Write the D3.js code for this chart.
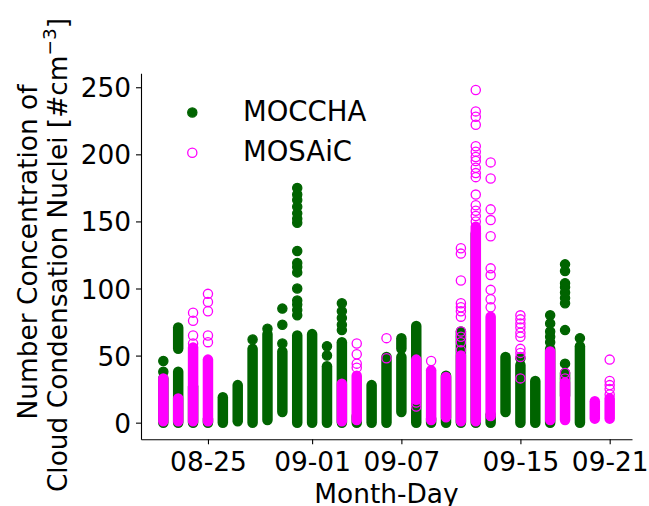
<!DOCTYPE html>
<html>
<head>
<meta charset="utf-8">
<script src="https://cdn.jsdelivr.net/npm/d3@7"></script>
<style>
  body { margin: 0; background: #fff; }
  text { font-family: "DejaVu Sans", sans-serif; fill: #000; }
</style>
</head>
<body>
<div id="chart"></div>
<script>
// MOCCHA: dense stacks of points per day [day, low, high]
const mocchaRuns = [
  ["08-22", 0, 33], ["08-23", 0, 38], ["08-23", 55, 71], ["08-24", 0, 27],
  ["08-25", 0, 3], ["08-26", 0, 19], ["08-27", 1, 28], ["08-28", 0, 55],
  ["08-29", 2, 66], ["08-30", 8, 53], ["08-31", 0, 65], ["09-01", 0, 66],
  ["09-02", 0, 42], ["09-03", 0, 60], ["09-04", 0, 5], ["09-05", 0, 28],
  ["09-06", 0, 49], ["09-07", 8, 49], ["09-07", 55, 63], ["09-08", 0, 72],
  ["09-09", 0, 3], ["09-10", 0, 35], ["09-11", 0, 68], ["09-12", 0, 141],
  ["09-13", 0, 6], ["09-14", 8, 49], ["09-15", 0, 43], ["09-16", 0, 31],
  ["09-17", 0, 55], ["09-18", 20, 37], ["09-19", 0, 57]
];
// MOCCHA: single points [day, value]
const mocchaPoints = [
  ["08-22", 38], ["08-22", 46], ["08-28", 62], ["08-29", 70],
  ["08-30", 59], ["08-30", 73], ["08-30", 85],
  ["08-31", 80], ["08-31", 84], ["08-31", 88], ["08-31", 91], ["08-31", 100],
  ["08-31", 112], ["08-31", 116], ["08-31", 119], ["08-31", 128], ["08-31", 149],
  ["08-31", 152], ["08-31", 156], ["08-31", 161], ["08-31", 166], ["08-31", 170], ["08-31", 175],
  ["09-02", 50], ["09-02", 57],
  ["09-03", 69], ["09-03", 73], ["09-03", 78], ["09-03", 83], ["09-03", 89],
  ["09-15", 48],
  ["09-17", 60], ["09-17", 64], ["09-17", 68], ["09-17", 74], ["09-17", 80],
  ["09-18", 44], ["09-18", 69], ["09-18", 89], ["09-18", 93], ["09-18", 97],
  ["09-18", 101], ["09-18", 104], ["09-18", 113], ["09-18", 118],
  ["09-19", 63]
];
// MOSAiC: dense stacks of points per day [day, low, high]
const mosaicRuns = [
  ["08-22", 1, 33], ["08-23", 1, 18], ["08-24", 1, 56], ["08-25", 1, 47],
  ["09-03", 1, 29], ["09-04", 2, 35], ["09-08", 17, 47], ["09-09", 2, 39],
  ["09-10", 4, 34], ["09-11", 1, 50], ["09-12", 1, 146], ["09-13", 5, 79],
  ["09-17", 2, 53], ["09-18", 2, 30], ["09-20", 3, 16], ["09-21", 3, 18]
];
// MOSAiC: single points [day, value]
const mosaicPoints = [
  ["08-24", 59], ["08-24", 65], ["08-24", 76], ["08-24", 82],
  ["08-25", 60], ["08-25", 65], ["08-25", 83], ["08-25", 90], ["08-25", 96],
  ["09-04", 41], ["09-04", 44], ["09-04", 51], ["09-04", 59],
  ["09-06", 48], ["09-06", 63],
  ["09-08", 12], ["09-08", 15],
  ["09-09", 46],
  ["09-11", 54], ["09-11", 60], ["09-11", 64], ["09-11", 68], ["09-11", 79],
  ["09-11", 83], ["09-11", 86], ["09-11", 89], ["09-11", 106], ["09-11", 126], ["09-11", 130],
  ["09-12", 150], ["09-12", 154], ["09-12", 158], ["09-12", 162],
  ["09-12", 170], ["09-12", 183], ["09-12", 186], ["09-12", 190], ["09-12", 195],
  ["09-12", 198], ["09-12", 202], ["09-12", 206], ["09-12", 222], ["09-12", 228],
  ["09-12", 232], ["09-12", 248],
  ["09-13", 86], ["09-13", 92], ["09-13", 99], ["09-13", 110], ["09-13", 115],
  ["09-13", 139], ["09-13", 151], ["09-13", 159], ["09-13", 182], ["09-13", 194],
  ["09-15", 33], ["09-15", 49], ["09-15", 52], ["09-15", 55], ["09-15", 64],
  ["09-15", 67], ["09-15", 71], ["09-15", 74], ["09-15", 77], ["09-15", 80],
  ["09-18", 33], ["09-18", 37],
  ["09-21", 21], ["09-21", 25], ["09-21", 28], ["09-21", 31], ["09-21", 47]
];
const xTickDays = ["08-25", "09-01", "09-07", "09-15", "09-21"];
const yTicks = [0, 50, 100, 150, 200, 250];
const seriesNames = ["MOCCHA", "MOSAiC"];

const W = 649, H = 506;
const margin = { top: 73.3, right: 17, bottom: 66.7, left: 141 };
const green = "#006400", magenta = "#ff00ff";
const r = 4.6, sw = 1.3;

const parseDay = d3.timeParse("%Y-%m-%d");
const day = s => parseDay("2018-" + s);

const svg = d3.select("#chart").append("svg")
  .attr("width", W).attr("height", H);

// Scales with matplotlib-like 5% margins
const allDays = [...mocchaRuns, ...mocchaPoints, ...mosaicRuns, ...mosaicPoints].map(d => day(d[0]));
const [d0, d1] = d3.extent(allDays);
const padT = (d1 - d0) * 0.05;
const x = d3.scaleTime()
  .domain([new Date(+d0 - padT), new Date(+d1 + padT)])
  .range([margin.left, W - margin.right]);

const allVals = [
  ...mocchaRuns.flatMap(d => [d[1], d[2]]), ...mocchaPoints.map(d => d[1]),
  ...mosaicRuns.flatMap(d => [d[1], d[2]]), ...mosaicPoints.map(d => d[1])
];
const [v0, v1] = d3.extent(allVals);
const padV = (v1 - v0) * 0.05;
const y = d3.scaleLinear()
  .domain([v0 - padV, v1 + padV])
  .range([H - margin.bottom, margin.top]);

// MOCCHA (filled green)
const gm = svg.append("g");
gm.selectAll("line").data(mocchaRuns).join("line")
  .attr("x1", d => x(day(d[0]))).attr("x2", d => x(day(d[0])))
  .attr("y1", d => y(d[1])).attr("y2", d => y(d[2]))
  .attr("stroke", green).attr("stroke-width", 2 * r + sw)
  .attr("stroke-linecap", "round");
gm.selectAll("circle").data(mocchaPoints).join("circle")
  .attr("cx", d => x(day(d[0]))).attr("cy", d => y(d[1]))
  .attr("r", r).attr("fill", green).attr("stroke", green).attr("stroke-width", sw);

// MOSAiC (open magenta)
const gs = svg.append("g");
gs.selectAll("line").data(mosaicRuns).join("line")
  .attr("x1", d => x(day(d[0]))).attr("x2", d => x(day(d[0])))
  .attr("y1", d => y(d[1])).attr("y2", d => y(d[2]))
  .attr("stroke", magenta).attr("stroke-width", 2 * r + sw)
  .attr("stroke-linecap", "round");
gs.selectAll("circle").data(mosaicPoints).join("circle")
  .attr("cx", d => x(day(d[0]))).attr("cy", d => y(d[1]))
  .attr("r", r).attr("fill", "none").attr("stroke", magenta).attr("stroke-width", sw);

// Axes
const xAxis = svg.append("g")
  .attr("transform", `translate(0,${H - margin.bottom})`)
  .call(d3.axisBottom(x)
    .tickValues(xTickDays.map(day))
    .tickFormat(d3.timeFormat("%m-%d"))
    .tickSize(5).tickSizeOuter(0).tickPadding(8));
const yAxis = svg.append("g")
  .attr("transform", `translate(${margin.left},0)`)
  .call(d3.axisLeft(y).tickValues(yTicks).tickSize(5).tickSizeOuter(0).tickPadding(5));

[xAxis, yAxis].forEach(a => {
  a.selectAll("text").style("font-size", "26.4px").style("font-family", "DejaVu Sans");
  a.selectAll("line").attr("stroke", "#000").attr("stroke-width", 1.1);
  a.select(".domain").attr("stroke", "#000").attr("stroke-width", 1.1);
});
yAxis.selectAll("text").attr("dy", "0.36em");

// Axis labels
svg.append("text")
  .attr("x", (margin.left + W - margin.right) / 2)
  .attr("y", 503)
  .attr("text-anchor", "middle")
  .style("font-size", "26.4px")
  .text("Month-Day");

const yl = svg.append("g").attr("transform", "translate(0,255) rotate(-90)");
yl.append("text")
  .attr("x", 3).attr("y", 37)
  .attr("text-anchor", "middle")
  .style("font-size", "26.4px")
  .text("Number Concentration of");
const yl2 = yl.append("text")
  .attr("x", 0).attr("y", 67)
  .attr("text-anchor", "middle")
  .style("font-size", "26.4px");
yl2.append("tspan").text("Cloud Condensation Nuclei [#cm");
yl2.append("tspan").attr("dy", "-0.6em").style("font-size", "18.5px").text("\u22123");
yl2.append("tspan").attr("dy", "0.42em").text("]");

// Legend
const legend = svg.append("g");
const legendY = [112.5, 152.7];
legend.append("circle").attr("cx", 192.3).attr("cy", legendY[0]).attr("r", r)
  .attr("fill", green).attr("stroke", green).attr("stroke-width", sw);
legend.append("circle").attr("cx", 192.3).attr("cy", legendY[1]).attr("r", r)
  .attr("fill", "none").attr("stroke", magenta).attr("stroke-width", sw);
seriesNames.forEach((name, i) => {
  legend.append("text")
    .attr("x", 243).attr("y", legendY[i] + 8.5)
    .style("font-size", "27.5px")
    .text(name);
});
</script>
</body>
</html>
